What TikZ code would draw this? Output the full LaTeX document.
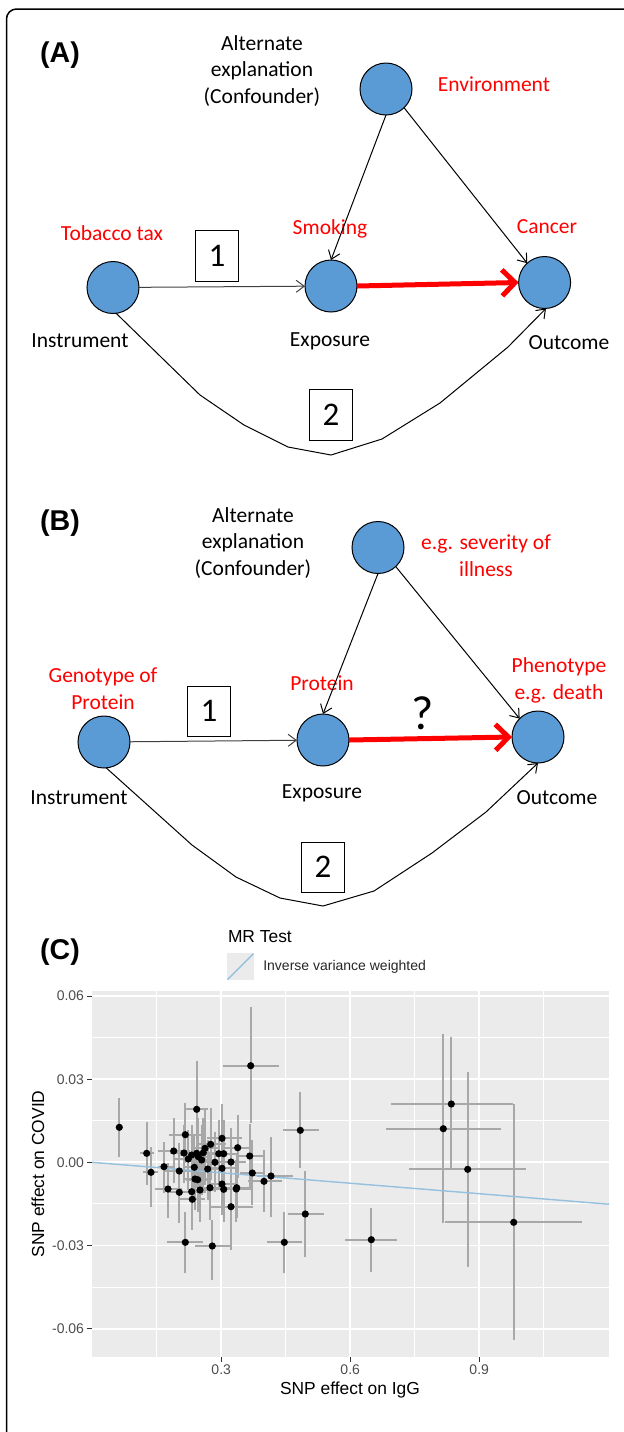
\documentclass[tikz,border=0pt]{standalone}
\usepackage{fontspec}
\newfontfamily\calib{Carlito}
\newfontfamily\arial{Liberation Sans}
\usetikzlibrary{arrows.meta}
\definecolor{nodeblue}{HTML}{5B9BD5}
\definecolor{panelgray}{HTML}{EBEBEB}
\definecolor{barg}{HTML}{A8A8A8}
\definecolor{fitblue}{HTML}{94C1DE}
\definecolor{ticklab}{HTML}{4D4D4D}
\definecolor{tickmk}{HTML}{333333}
\begin{document}
\begin{tikzpicture}[x=0.5pt,y=-0.5pt,
  every node/.style={inner sep=0pt,outer sep=0pt},
  dotnode/.style={circle,draw=black,line width=0.5pt,fill=nodeblue,minimum size=26pt},
  lbl/.style={font=\calib\fontsize{10.75}{13.4}\selectfont,align=center},
  rlbl/.style={lbl,text=red},
  numbox/.style={draw,line width=0.5pt,minimum width=21.8pt,minimum height=25.5pt,font=\calib\fontsize{16.5}{16.5}\selectfont},
  thinarr/.style={line width=0.5pt,-{Straight Barb[length=4pt,width=6pt,line width=0.5pt]}},
  redarr/.style={draw=red,line width=2.5pt,-{Straight Barb[length=6.5pt,width=13pt,line width=2.5pt]}},
  panlbl/.style={font=\arial\bfseries\fontsize{14.3}{16}\selectfont},
  ticklbl/.style={font=\arial\fontsize{7}{8}\selectfont,text=ticklab},
  axtitle/.style={font=\arial\fontsize{8.7}{10}\selectfont},
  bar/.style={draw=barg,line width=0.9pt},
]
\useasboundingbox (0,0) rectangle (624,1432);
% frame
\draw[line width=0.75pt,rounded corners=5pt] (624,9) -- (6.5,9) -- (6.5,1432);

% ---------------- Panel A ----------------
\node[panlbl] (labA) at (60,55) {(A)};
\node[lbl] (altA) at (262,71) {Alternate\\explanation\\(Confounder)};
\node[dotnode] (envA) at (386,89) {};
\node[rlbl] (envtA) at (494,84) {Environment};
\node[dotnode] (instA) at (113,287.5) {};
\node[dotnode] (expA) at (331,286) {};
\node[dotnode] (outA) at (544.6,282.5) {};
\node[rlbl] (tobA) at (112,233) {Tobacco tax};
\node[rlbl] (smoA) at (330,229) {Smoking};
\node[rlbl] (canA) at (547,227) {Cancer};
\node[lbl] (insA) at (80,341) {Instrument};
\node[lbl] (exptA) at (330,341) {Exposure};
\node[lbl] (outtA) at (569,343) {Outcome};
\node[numbox] (b1A) at (217,255.5) {1};
\node[numbox] (b2A) at (331,415) {2};
\draw[thinarr,draw=black!75] (instA) -- (expA);
\draw[redarr] (expA.east) -- (outA.west);
\draw[thinarr] (envA.south) -- (expA.north);
\draw[thinarr] (envA.-46) -- (outA.132);
\draw[thinarr] (instA.-83) -- (200,395) -- (244,425) -- (288,447) -- (331,455) -- (382,439) -- (440,403) -- (508,347) -- (outA.-87);

% ---------------- Panel B ----------------
\node[panlbl] (labB) at (60,523) {(B)};
\node[lbl] (altB) at (253,543) {Alternate\\explanation\\(Confounder)};
\node[dotnode] (conB) at (378,547.5) {};
\node[rlbl] (sevB) at (486,555.5) {e.g. severity of\\illness};
\node[dotnode] (instB) at (104,742) {};
\node[dotnode] (expB) at (323,740) {};
\node[dotnode] (outB) at (538,737) {};
\node[rlbl] (genB) at (103,688.5) {Genotype of\\Protein};
\node[rlbl] (proB) at (322,683) {Protein};
\node[rlbl] (phenB) at (559,680.5) {Phenotype\\e.g. death};
\node[font=\calib\fontsize{24}{24}\selectfont] (qB) at (423,713) {?};
\node[lbl] (insB) at (79,798) {Instrument};
\node[lbl] (exptB) at (322,793) {Exposure};
\node[lbl] (outtB) at (557,798) {Outcome};
\node[numbox,minimum height=25pt] (b1B) at (209,711) {1};
\node[numbox,minimum height=25pt] (b2B) at (323,867) {2};
\draw[thinarr,draw=black!75] (instB) -- (expB);
\draw[redarr] (expB.east) -- (outB.west);
\draw[thinarr] (conB.south) -- (expB.north);
\draw[thinarr] (conB.-47) -- (outB.135);
\draw[thinarr] (instB.-85) -- (192,845) -- (236,877) -- (280,898) -- (323,906) -- (374,891) -- (432,853) -- (486,812) -- (outB.-90);

% ---------------- Panel C ----------------
\node[panlbl] (labC) at (60,952) {(C)};
\node[axtitle,anchor=west] (legt) at (228,937) {MR Test};
\fill[panelgray] (227,953) rectangle (254,980);
\draw[fitblue,line width=0.7pt] (227.5,979.5) -- (253.5,953.5);
\node[ticklbl,text=black!85,anchor=west] (legl) at (263.3,967) {Inverse variance weighted};

\fill[panelgray] (92,991) rectangle (609,1357);
\foreach \x in {156.7,285.7,414.7,543.7} \draw[white,line width=0.45pt] (\x,991) -- (\x,1357);
\foreach \y in {1037.6,1120.7,1203.9,1287} \draw[white,line width=0.45pt] (92,\y) -- (609,\y);
\foreach \x in {221.2,350.2,479.2} \draw[white,line width=0.9pt] (\x,991) -- (\x,1357);
\foreach \y in {996,1079.2,1162.3,1245.4,1328.6} \draw[white,line width=0.9pt] (92,\y) -- (609,\y);

\foreach \y/\t [count=\i] in {996/0.06,1079.2/0.03,1162.3/0.00,1245.4/-0.03,1328.6/-0.06}{
  \draw[tickmk,line width=0.5pt] (87,\y) -- (92,\y);
  \node[ticklbl,anchor=east] (ytick\i) at (84,\y) {\t};
}
\foreach \x/\t [count=\i] in {221.2/0.3,350.2/0.6,479.2/0.9}{
  \draw[tickmk,line width=0.5pt] (\x,1357) -- (\x,1362);
  \node[ticklbl,anchor=north] (xtick\i) at (\x,1365) {\t};
}
\node[axtitle] (xtitle) at (350,1390) {SNP effect on IgG};
\node[axtitle,rotate=90] (ytitle) at (38,1174) {SNP effect on COVID};

\begin{scope}
\clip (92,991) rectangle (609,1357);
\foreach \cx/\cy/\xl/\xr/\yt/\yb in {
119.3/1127.3/117/122/1098/1157,
146.7/1153.3/140/154/1122/1185,
151/1172.3/143/158/1147/1207,
164/1166.7/158/175/1142/1193,
168/1189/155/182/1163/1218,
173.7/1151/158/190/1118/1183,
179.3/1171/165/195/1143/1200,
179.3/1192.3/168/192/1167/1223,
184/1153/170/198/1125/1183,
185.3/1134.7/169/203/1103/1163,
185.3/1242.3/167/203/1212/1273,
188.3/1159/175/202/1130/1190,
191.7/1155/180/205/1125/1188,
191.7/1191.7/178/206/1165/1220,
192.3/1199.3/180/205/1177/1230,
194.3/1167.3/183/208/1135/1198,
195/1179/184/207/1150/1210,
196.7/1109.3/185/208/1061/1158,
196.7/1153.3/186/210/1120/1188,
197.7/1179.7/186/210/1150/1212,
198.3/1156.7/185/212/1118/1192,
200/1190/188/214/1160/1222,
201.7/1160/190/214/1125/1195,
203.3/1152.7/190/216/1118/1188,
205/1148.3/192/218/1110/1185,
207.7/1169/195/220/1140/1200,
210/1187.7/197/224/1155/1220,
210.7/1144.3/196/226/1108/1180,
212.3/1246/195/230/1220/1280,
215/1162.3/202/228/1132/1192,
218.7/1153.7/205/232/1120/1187,
222/1138.3/207/242/1104/1172,
222/1168.3/208/236/1135/1200,
222/1184/208/238/1150/1215,
223.7/1153.7/210/238/1120/1188,
223.7/1189.3/208/240/1157/1222,
231/1162/216/246/1128/1195,
231/1206.7/210/253/1170/1250,
236.3/1189/222/252/1160/1222,
236.7/1187.7/224/250/1155/1218,
237.7/1147.7/222/252/1115/1178,
249.7/1156/238/263/1124/1190,
250.7/1065.7/222.7/278.7/1007/1123,
252.3/1173/240/265/1140/1205,
264/1181.3/248/282/1150/1212,
271/1176/257/293/1137/1217,
284.3/1242.3/267/302/1212/1273,
300.3/1130.3/283/319/1092/1168,
305.3/1214/288/324/1171/1257,
371.3/1239.7/345/397.3/1208.3/1271.7,
451.3/1104/390.7/513.3/1036.7/1170,
443.3/1128.7/385.7/501/1034.3/1222.7,
467.7/1169.3/409.3/526/1071.7/1267.3,
513.7/1222.3/445.3/582.3/1104/1340}{
  \draw[bar] (\xl,\cy) -- (\xr,\cy);
  \draw[bar] (\cx,\yt) -- (\cx,\yb);
}
\coordinate (fit0) at (92.2,1162.3);
\coordinate (fit1) at (609,1204.2);
\draw[fitblue,line width=0.7pt] (fit0) -- (fit1);
\foreach \cx/\cy in {
119.3/1127.3,146.7/1153.3,151/1172.3,164/1166.7,168/1189,173.7/1151,179.3/1171,179.3/1192.3,
184/1153,185.3/1134.7,185.3/1242.3,188.3/1159,191.7/1155,191.7/1191.7,192.3/1199.3,194.3/1167.3,
195/1179,196.7/1109.3,196.7/1153.3,197.7/1179.7,198.3/1156.7,200/1190,201.7/1160,203.3/1152.7,
205/1148.3,207.7/1169,210/1187.7,210.7/1144.3,212.3/1246,215/1162.3,218.7/1153.7,222/1138.3,
222/1168.3,222/1184,223.7/1153.7,223.7/1189.3,231/1162,231/1206.7,236.3/1189,236.7/1187.7,
237.7/1147.7,249.7/1156,250.7/1065.7,252.3/1173,264/1181.3,271/1176,284.3/1242.3,300.3/1130.3,
305.3/1214,371.3/1239.7,451.3/1104,443.3/1128.7,467.7/1169.3,513.7/1222.3}{
  \fill[black] (\cx,\cy) circle[radius=1.8pt];
}
\end{scope}
\end{tikzpicture}
\end{document}
